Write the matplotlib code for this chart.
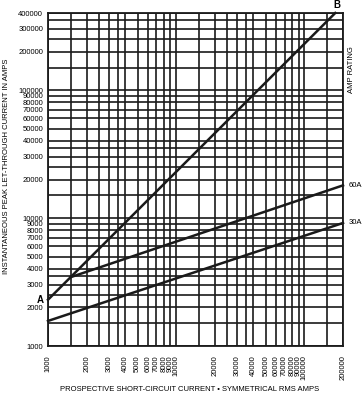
import matplotlib
matplotlib.use("Agg")
import matplotlib.pyplot as plt
from matplotlib.ticker import FixedLocator, NullFormatter

plt.rcParams['font.family'] = ['Liberation Sans', 'DejaVu Sans']

# (straight lines on log-log, so two points each)
ab_x = [1000, 174000]
ab_y = [2300, 400000]
a60_x = [1500, 200000]
a60_y = [3450, 18000]
a30_x = [1000, 200000]
a30_y = [1570, 9150]

x_labels = [1000, 2000, 3000, 4000, 5000, 6000, 7000, 8000, 9000, 10000,
            20000, 30000, 40000, 50000, 60000, 70000, 80000, 90000, 100000, 200000]
y_labels = [1000, 2000, 3000, 4000, 5000, 6000, 7000, 8000, 9000, 10000,
            20000, 30000, 40000, 50000, 60000, 70000, 80000, 90000, 100000,
            200000, 300000, 400000]
# extra grid lines between labels
x_grid = [1500, 2500, 3500, 15000, 25000, 35000, 150000]
y_grid = [1500, 2500, 3500, 15000, 25000, 35000, 150000, 250000, 350000]

fig = plt.figure(figsize=(3.64, 3.99), dpi=100)
ax = fig.add_axes([0.1319, 0.1328, 0.8104, 0.8346])

ax.set_xscale('log')
ax.set_yscale('log')
ax.set_xlim(1000, 200000)
ax.set_ylim(1000, 400000)

ax.xaxis.set_major_locator(FixedLocator(x_labels))
ax.xaxis.set_minor_locator(FixedLocator(x_grid))
ax.yaxis.set_major_locator(FixedLocator(y_labels))
ax.yaxis.set_minor_locator(FixedLocator(y_grid))
ax.xaxis.set_minor_formatter(NullFormatter())
ax.yaxis.set_minor_formatter(NullFormatter())
ax.set_xticklabels([str(v) for v in x_labels], rotation=90, fontsize=5.5)
ax.set_yticklabels([str(v) for v in y_labels], fontsize=5.5)
ax.tick_params(axis='both', which='both', length=0)
ax.tick_params(axis='x', pad=6.5)
ax.tick_params(axis='y', pad=3.5)

ax.grid(True, which='both', color='#1a1a1a', linewidth=1.2)
for s in ax.spines.values():
    s.set_linewidth(1.3)
    s.set_color('#1a1a1a')

ax.plot(ab_x, ab_y, color='#1a1a1a', linewidth=1.8, clip_on=False, zorder=3)
ax.plot(a60_x, a60_y, color='#1a1a1a', linewidth=1.8, clip_on=False, zorder=3)
ax.plot(a30_x, a30_y, color='#1a1a1a', linewidth=1.8, clip_on=False, zorder=3)

ax.annotate('A', xy=(1000, 2300), xytext=(-3, 0), textcoords='offset points',
            ha='right', va='center', fontsize=7, fontweight='bold', annotation_clip=False)
ax.annotate('B', xy=(174000, 400000), xytext=(1, 2), textcoords='offset points',
            ha='center', va='bottom', fontsize=7, fontweight='bold', annotation_clip=False)
ax.annotate('60A', xy=(200000, 18000), xytext=(4, 0), textcoords='offset points',
            ha='left', va='center', fontsize=5.5, annotation_clip=False)
ax.annotate('30A', xy=(200000, 9150), xytext=(4, 0), textcoords='offset points',
            ha='left', va='center', fontsize=5.5, annotation_clip=False)

fig.text(0.967, 0.825, 'AMP RATING', rotation=90, ha='center', va='center', fontsize=5.5)
fig.text(0.019, 0.582, 'INSTANTANEOUS PEAK LET-THROUGH CURRENT IN AMPS', rotation=90,
         ha='center', va='center', fontsize=5.5)
fig.text(0.522, 0.015, 'PROSPECTIVE SHORT-CIRCUIT CURRENT \u2022 SYMMETRICAL RMS AMPS',
         ha='center', va='bottom', fontsize=5.5)

fig.savefig('out.png', dpi=100, facecolor='white')
